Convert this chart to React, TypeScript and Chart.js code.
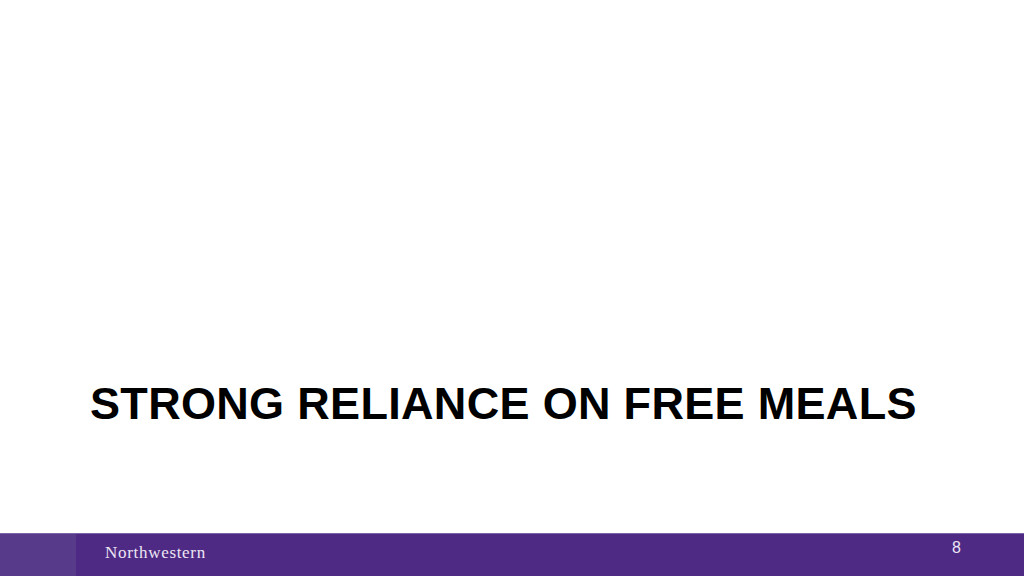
import { FC, useEffect, useRef } from 'react';
import { Chart, ChartItem, ChartConfiguration, registerables } from 'chart.js';

Chart.register(...registerables);

// the slide is a section divider: the chart area holds no series at all
const categories: string[] = [];
const values: number[] = [];

const slideTitle = 'STRONG RELIANCE ON FREE MEALS';
const footerBrand = 'Northwestern';
const pageNumber = '8';

const purple = '#4e2a84';
const purpleLight = '#573a8a';

const config = {
  type: 'bar',
  data: {
    labels: categories,
    datasets: [
      {
        label: slideTitle,
        data: values,
        backgroundColor: purple,
      },
    ],
  },
  options: {
    animation: false,
    responsive: false,
    maintainAspectRatio: false,
    plugins: {
      legend: { display: false },
      tooltip: { enabled: false },
    },
    scales: {
      x: { display: false },
      y: { display: false },
    },
  },
} as ChartConfiguration;

const EmptyChart: FC = () => {
  const canvasRef = useRef<HTMLCanvasElement>(null);

  useEffect(() => {
    const chartRef = new Chart(canvasRef.current as ChartItem, config);
    return () => {
      chartRef.destroy();
    };
  }, []);

  return (
    <canvas
      ref={canvasRef}
      width={1024}
      height={360}
      style={{ position: 'absolute', left: 0, top: 0, width: 1024, height: 360 }}
    />
  );
};

const App: FC = () => {
  return (
    <div
      style={{
        position: 'fixed',
        left: 0,
        top: 0,
        width: 1024,
        height: 576,
        background: '#ffffff',
        overflow: 'hidden',
      }}
    >
      <EmptyChart />
      <div
        style={{
          position: 'absolute',
          left: 90,
          top: 381,
          fontFamily: '"Liberation Sans", Arial, sans-serif',
          fontWeight: 'bold',
          fontSize: 45,
          lineHeight: '45px',
          letterSpacing: 0.32,
          color: '#000000',
          whiteSpace: 'nowrap',
        }}
      >
        {slideTitle}
      </div>
      <div
        style={{
          position: 'absolute',
          left: 0,
          top: 533,
          width: 1024,
          height: 43,
          background: purple,
          borderTop: '1px solid #7d63a8',
          boxSizing: 'border-box',
        }}
      >
        <div
          style={{
            position: 'absolute',
            left: 0,
            top: 0,
            width: 76,
            height: 42,
            background: purpleLight,
          }}
        />
        <div
          style={{
            position: 'absolute',
            left: 105,
            top: 10,
            fontFamily: '"Liberation Serif", "Times New Roman", serif',
            fontSize: 17,
            lineHeight: '17px',
            letterSpacing: 0.7,
            color: '#ece6f4',
            whiteSpace: 'nowrap',
          }}
        >
          {footerBrand}
        </div>
        <div
          style={{
            position: 'absolute',
            left: 952,
            top: 6,
            fontFamily: '"Liberation Sans", Arial, sans-serif',
            fontSize: 16,
            lineHeight: '16px',
            color: '#ece6f4',
          }}
        >
          {pageNumber}
        </div>
      </div>
    </div>
  );
};

export default App;
